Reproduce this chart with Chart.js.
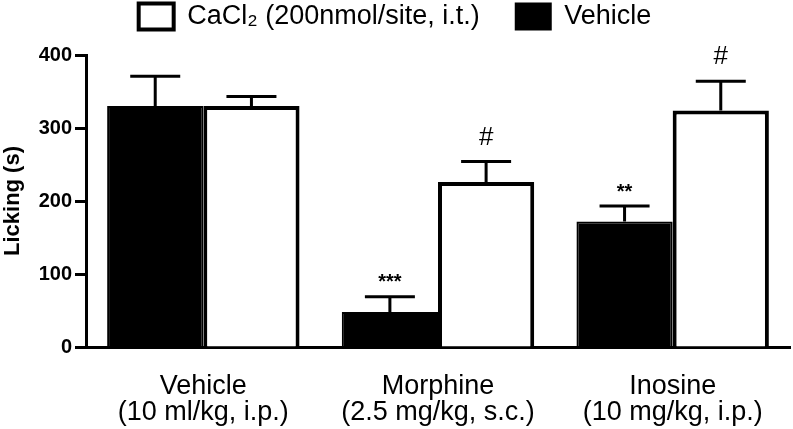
<!DOCTYPE html>
<html>
<head>
<meta charset="utf-8">
<script src="https://cdn.jsdelivr.net/npm/chart.js@4"></script>
<style>
  html, body { margin: 0; padding: 0; background: #fff; }
  #wrap { width: 793px; height: 429px; }
</style>
</head>
<body>
<div id="wrap"><canvas id="licking"></canvas></div>
<script>
const groups = [
    ['Vehicle', '(10 ml/kg, i.p.)'],
    ['Morphine', '(2.5 mg/kg, s.c.)'],
    ['Inosine', '(10 mg/kg, i.p.)']
];
const vehicleMean = [330, 48, 172];
const vehicleSem = [41, 21, 21];
const vehicleMarks = ['', '***', '**'];
const cacl2Mean = [330, 226, 324];
const cacl2Sem = [13, 28, 40];
const cacl2Marks = ['', '#', '#'];
const yTicks = [0, 100, 200, 300, 400];

const FONT = '"Liberation Sans", Arial, sans-serif';

// error bars (upper only) and significance marks, placed via the chart scales
const errorBars = {
    id: 'errorBars',
    afterDatasetsDraw(chart) {
        const ctx = chart.ctx;
        const y = chart.scales.y;
        ctx.save();
        ctx.strokeStyle = '#000';
        ctx.fillStyle = '#000';
        ctx.lineWidth = 3;
        chart.data.datasets.forEach((ds, i) => {
            const meta = chart.getDatasetMeta(i);
            meta.data.forEach((bar, j) => {
                const top = y.getPixelForValue(ds.data[j] + ds.sem[j]);
                const base = y.getPixelForValue(ds.data[j]);
                ctx.beginPath();
                ctx.moveTo(bar.x, base);
                ctx.lineTo(bar.x, top);
                ctx.moveTo(bar.x - 25, top);
                ctx.lineTo(bar.x + 25, top);
                ctx.stroke();
                const mark = ds.marks[j];
                if (mark) {
                    ctx.textAlign = 'center';
                    ctx.textBaseline = 'middle';
                    if (mark === '#') {
                        ctx.font = '26px ' + FONT;
                        ctx.fillText(mark, bar.x, top - 24);
                    } else {
                        ctx.font = 'bold 20px ' + FONT;
                        ctx.fillText(mark, bar.x, top - 14);
                    }
                }
            });
        });
        ctx.restore();
    }
};

// leave room under the legend so the plot starts lower
const legendGap = {
    id: 'legendGap',
    beforeInit(chart) {
        const fit = chart.legend.fit;
        chart.legend.fit = function () {
            fit.call(this);
            this.height = 88;
        };
    }
};

new Chart(document.getElementById('licking'), {
    type: 'bar',
    data: {
        labels: groups,
        datasets: [
            {
                label: 'Vehicle',
                data: vehicleMean,
                sem: vehicleSem,
                marks: vehicleMarks,
                backgroundColor: '#000',
                borderColor: '#000',
                borderWidth: 2
            },
            {
                label: 'CaCl\u2082 (200nmol/site, i.t.)',
                data: cacl2Mean,
                sem: cacl2Sem,
                marks: cacl2Marks,
                backgroundColor: '#fff',
                borderColor: '#000',
                borderWidth: 4
            }
        ]
    },
    options: {
        responsive: true,
        maintainAspectRatio: false,
        animation: false,
        categoryPercentage: 0.82,
        barPercentage: 1,
        layout: { padding: { left: 0, right: 3, top: -33, bottom: 0 } },
        plugins: {
            legend: {
                reverse: true,
                labels: {
                    color: '#000',
                    font: { family: FONT, size: 27 },
                    boxWidth: 35,
                    boxHeight: 26,
                    padding: 36
                }
            },
            tooltip: { enabled: false }
        },
        scales: {
            x: {
                grid: { display: false },
                border: { color: '#000', width: 3 },
                ticks: {
                    color: '#000',
                    font: { family: FONT, size: 27, lineHeight: 0.95 },
                    padding: 19,
                    maxRotation: 0
                },
                afterFit(scale) { scale.height = 82; }
            },
            y: {
                min: 0,
                max: 400,
                afterBuildTicks(scale) { scale.ticks = yTicks.map(v => ({ value: v })); },
                grid: {
                    drawOnChartArea: false,
                    tickLength: 11,
                    tickWidth: 3,
                    tickColor: '#000'
                },
                border: { color: '#000', width: 3 },
                ticks: {
                    color: '#000',
                    font: { family: FONT, size: 20, weight: 'bold' },
                    padding: 3
                },
                title: {
                    display: true,
                    text: 'Licking (s)',
                    color: '#000',
                    font: { family: FONT, size: 22, weight: 'bold' },
                    padding: 0
                },
                afterFit(scale) { scale.width = 86; }
            }
        }
    },
    plugins: [errorBars, legendGap]
});
</script>
</body>
</html>
